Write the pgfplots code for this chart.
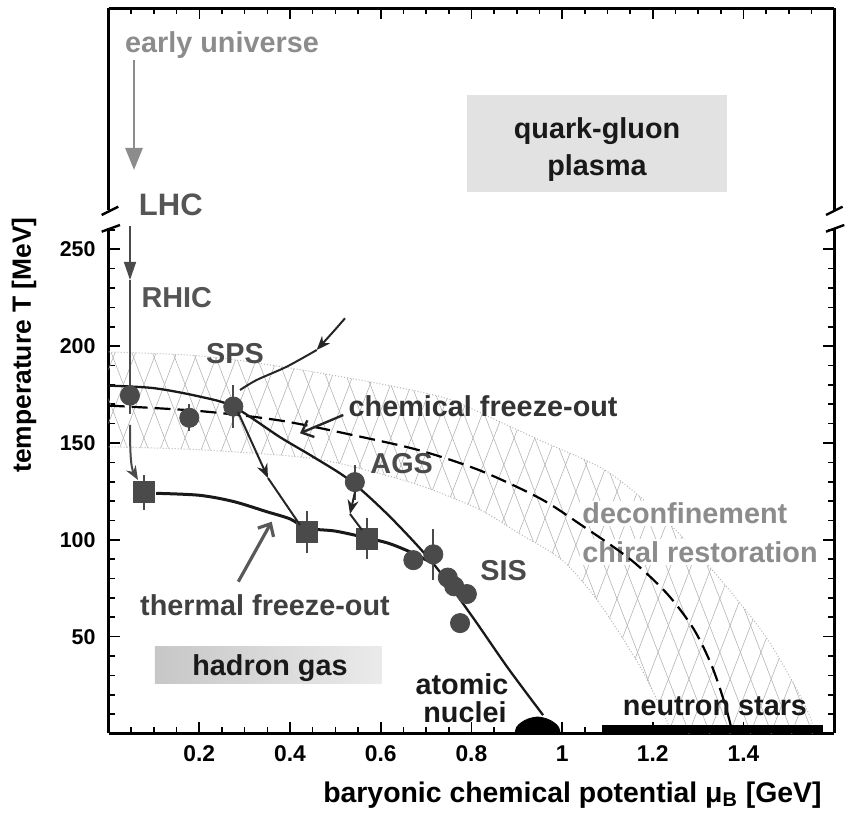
\documentclass[border=0pt]{standalone}
\usepackage{fontspec}
\setmainfont{Liberation Sans}
\usepackage{pgfplots}
\pgfplotsset{compat=1.18}
\usepgfplotslibrary{fillbetween}
\usetikzlibrary{patterns.meta,arrows.meta}
\definecolor{dg}{HTML}{4A4A4A}
\definecolor{lg}{HTML}{8C8C8C}
\definecolor{tg}{HTML}{555555}
\definecolor{boxg}{HTML}{E2E2E2}
\definecolor{hatch}{HTML}{B4B4B4}
\newcommand{\af}{\fontsize{14.4}{16}\selectfont\bfseries}

\begin{document}
\begin{tikzpicture}
\begin{axis}[
  name=low, at={(0,0)}, anchor=south west, scale only axis,
  width=362.8pt, height=252.75pt,
  xmin=0, xmax=1.6, ymin=0, ymax=261,
  axis x line*=bottom,
  axis line style={line width=1.4pt},
  xtick={0.2,0.4,0.6,0.8,1,1.2,1.4},
  xticklabels={0.2,0.4,0.6,0.8,1,1.2,1.4},
  minor xtick={0.05,0.1,0.15,0.25,0.3,0.35,0.45,0.5,0.55,0.65,0.7,0.75,0.85,0.9,0.95,1.05,1.1,1.15,1.25,1.3,1.35,1.45,1.5,1.55},
  ytick={50,100,150,200,250},
  yticklabels={50,100,150,200,250},
  minor ytick={10,20,30,40,60,70,80,90,110,120,130,140,160,170,180,190,210,220,230,240,260},
  major tick length=5.5pt, minor tick length=3pt,
  tick style={black, line width=0.8pt},
  xticklabel style={font=\fontsize{11.4}{13}\selectfont\bfseries, yshift=-2.5pt},
  yticklabel style={font=\fontsize{10.7}{12}\selectfont\bfseries, xshift=-3pt},
  clip=false,
]
% band (deconfinement / chiral restoration)
\addplot[name path=up, draw=hatch, densely dotted, line width=0.5pt, smooth] coordinates {
 (0,197) (0.2,195) (0.378,189.5) (0.6,180.5) (0.745,173) (0.834,164) (0.95,151.5) (1.098,135.5) (1.22,112) (1.333,84) (1.443,52) (1.51,26) (1.547,8.5) (1.555,0)};
\addplot[name path=lo, draw=hatch, densely dotted, line width=0.5pt, smooth] coordinates {
 (0,148) (0.2,146.5) (0.45,142) (0.6,134) (0.7,127) (0.819,115.5) (0.9,104) (1.0,89.5) (1.08,68) (1.172,34.5) (1.23,7) (1.24,0)};
\addplot[draw=none, pattern={Lines[angle=69,distance=9.6pt,line width=0.3pt]}, pattern color=hatch] fill between[of=up and lo];
\addplot[draw=none, pattern={Lines[angle=111,distance=9.6pt,line width=0.3pt]}, pattern color=hatch] fill between[of=up and lo];
\node[anchor=west, fill=white, inner sep=1pt, font=\af, text=lg] at (axis cs:1.0395,113.5) {deconfinement};
\node[anchor=west, fill=white, inner sep=1pt, font=\af, text=lg] at (axis cs:1.0395,93.7) {chiral restoration};
% deconfinement line (dashed)
\addplot[black, line width=1.1pt, dash pattern=on 8pt off 3.5pt, smooth] coordinates {
 (0,169.3) (0.2,166.5) (0.378,161.6) (0.55,153.5) (0.687,146.1) (0.819,135.8) (0.951,121.4) (1.04,108) (1.15,90) (1.231,72.3) (1.29,54) (1.33,35) (1.358,16) (1.372,4)};
% chemical freeze-out curve
\addplot[black!90, line width=1.15pt, smooth] coordinates {
 (0,179.6) (0.1,178.3) (0.2,174) (0.275,168.8) (0.378,153) (0.45,143) (0.532,130.7) (0.62,112) (0.716,87.7) (0.8,61) (0.88,34) (0.958,9.5)};
% thermal freeze-out curve
\addplot[black!90, line width=1.5pt, smooth] coordinates {
 (0.105,124) (0.2,123) (0.275,119.8) (0.349,114.5) (0.4,110.8) (0.437,106) (0.5,104.5) (0.569,101) (0.62,98) (0.672,93) (0.716,87.7)};
% atomic nuclei
\addplot[fill=black, draw=black, smooth] coordinates {
 (0.896,0) (0.9,3.3) (0.91,5.6) (0.925,7.5) (0.946,8.5) (0.967,7.5) (0.982,5.6) (0.992,3.3) (0.996,0)} -- cycle;
% neutron stars
\addplot[fill=black, draw=none] coordinates {(1.087,0) (1.087,4.6) (1.576,4.6) (1.576,0)} -- cycle;
% chemical freeze-out points
\addplot[only marks, mark=*, mark size=4.8pt, color=dg,
  error bars/.cd, y dir=both, y explicit, error mark=none,
  error bar style={line width=1pt, dg}] coordinates {
 (0.047,174.5) +- (0,9.5)
 (0.178,163) +- (0,7)
 (0.275,168.8) +- (0,11.3)
 (0.543,129.8) +- (0,9)
 (0.672,89.5) +- (0,0)
 (0.716,92.5) +- (0,13)
 (0.748,80.5) +- (0,4)
 (0.762,76) +- (0,0)
 (0.79,72) +- (0,0)
 (0.775,57) +- (0,0)};
% thermal freeze-out points
\addplot[only marks, mark=square*, mark size=5.2pt, color=dg,
  error bars/.cd, y dir=both, y explicit, error mark=none,
  error bar style={line width=1pt, dg}] coordinates {
 (0.078,124.6) +- (0,9)
 (0.437,104) +- (0,11)
 (0.569,100.6) +- (0,10.5)};
\end{axis}

\begin{axis}[
  name=up, at={(0,261.75pt)}, anchor=south west, scale only axis,
  width=362.8pt, height=100.75pt,
  xmin=0, xmax=1.6, ymin=-210, ymax=-8.5,
  axis x line*=top,
  axis line style={line width=1.4pt},
  xtick={0.2,0.4,0.6,0.8,1,1.2,1.4},
  xticklabels={},
  minor xtick={0.05,0.1,0.15,0.25,0.3,0.35,0.45,0.5,0.55,0.65,0.7,0.75,0.85,0.9,0.95,1.05,1.1,1.15,1.25,1.3,1.35,1.45,1.5,1.55},
  ytick=\empty,
  major tick length=5.5pt, minor tick length=3pt,
  tick style={black, line width=0.8pt},
  clip=false,
]
\end{axis}

\begin{scope}[shift={(-54.3pt,366.75pt)}, x=0.5pt, y=-0.5pt]
 % axis breaks
 \draw[line width=1.2pt] (101.7,231.7) -- (120,225) (101.7,215) -- (118.3,206.7);
 \draw[line width=1.2pt] (826,231.7) -- (844.3,225) (826,215) -- (842.6,206.7);
 % boxes
 \fill[boxg] (467,95) rectangle (727,192);
 \node[font=\af, text=black!90] at (597,131) {quark-gluon};
 \node[font=\af, text=black!90] at (597,168) {plasma};
 \shade[left color=black!22, right color=black!8] (155,646.7) rectangle (381.7,683.3);
 \node[font=\af, text=black!90] at (270,668) {hadron gas};
 % early universe
 \node[font=\af, text=lg] at (222,45) {early universe};
 \draw[lg, line width=1.4pt, -{Triangle[length=11pt,width=8.5pt]}] (134,60) -- (134,170);
 \node[font=\fontsize{15.5}{17}\selectfont\bfseries, text=tg] at (170.8,205) {LHC};
 \draw[dg, line width=0.7pt, -{Triangle[length=9pt,width=6pt]}] (130,226) -- (130,280);
 \draw[dg, line width=0.7pt] (130,280) -- (130,385);
 \node[font=\af, text=tg] at (176.7,297.5) {RHIC};
 \draw[dg, line width=1pt, -{Stealth[length=7pt,width=5.5pt]}] (130,425) .. controls (130,455) and (131,468) .. (138,480);
 % SPS trajectory
 \node[font=\af, text=dg] at (235,354) {SPS};
 \draw[black!85, line width=1pt, -{Stealth[length=7pt,width=5.5pt]}] plot[smooth] coordinates {(345,318.3) (333.3,331.7) (316.7,350)};
 \draw[black!85, line width=1pt] plot[smooth] coordinates {(316.7,350) (286.7,366.7) (256.7,380) (240,390)};
 \draw[black!85, line width=1pt, -{Stealth[length=7pt,width=5.5pt]}] (238,412) -- (268,478);
 \draw[black!85, line width=1pt] (268,478) -- (300,525);
 % AGS trajectory
 \node[font=\af, text=dg] at (401.7,463.3) {AGS};
 \draw[black!85, line width=1pt, -{Stealth[length=7pt,width=5.5pt]}] (355,492) -- (350,514);
 \draw[black!85, line width=1pt] (350,514) -- (362,530);
 \node[font=\af, text=dg, anchor=west, inner sep=0pt] at (480,571) {SIS};
 % labels with pointers
 \node[font=\af, text=black!80, anchor=west, inner sep=0pt] at (348.3,406.7) {chemical freeze-out};
 \draw[black!85, line width=1.2pt, -{Straight Barb[length=5pt,width=9pt]}] (343.3,415) -- (300,433.3);
 \node[font=\af, text=black!75] at (265,605) {thermal freeze-out};
 \draw[black!65, line width=1.6pt, -{Straight Barb[length=5pt,width=9pt]}] (238.3,581.7) -- (271.7,521.7);
 \node[font=\af, text=black!90, inner sep=0pt] at (462,684) {atomic};
 \node[font=\af, text=black!90, inner sep=0pt] at (465,712) {nuclei};
 \node[font=\af, text=black!90, inner sep=1pt] at (715,706) {neutron stars};
 % axis labels
 \node[font=\fontsize{13.2}{15}\selectfont\bfseries, rotate=90] at (24,345) {temperature T [MeV]};
 \node[font=\fontsize{14.2}{16}\selectfont\bfseries, anchor=east, inner sep=0pt] at (822,795) {baryonic chemical potential μ\textsubscript{B} [GeV]};
\end{scope}
\pgfresetboundingbox
\path[use as bounding box] (-54.3pt,-39.75pt) rectangle (371.7pt,366.75pt);
\end{tikzpicture}
\end{document}
